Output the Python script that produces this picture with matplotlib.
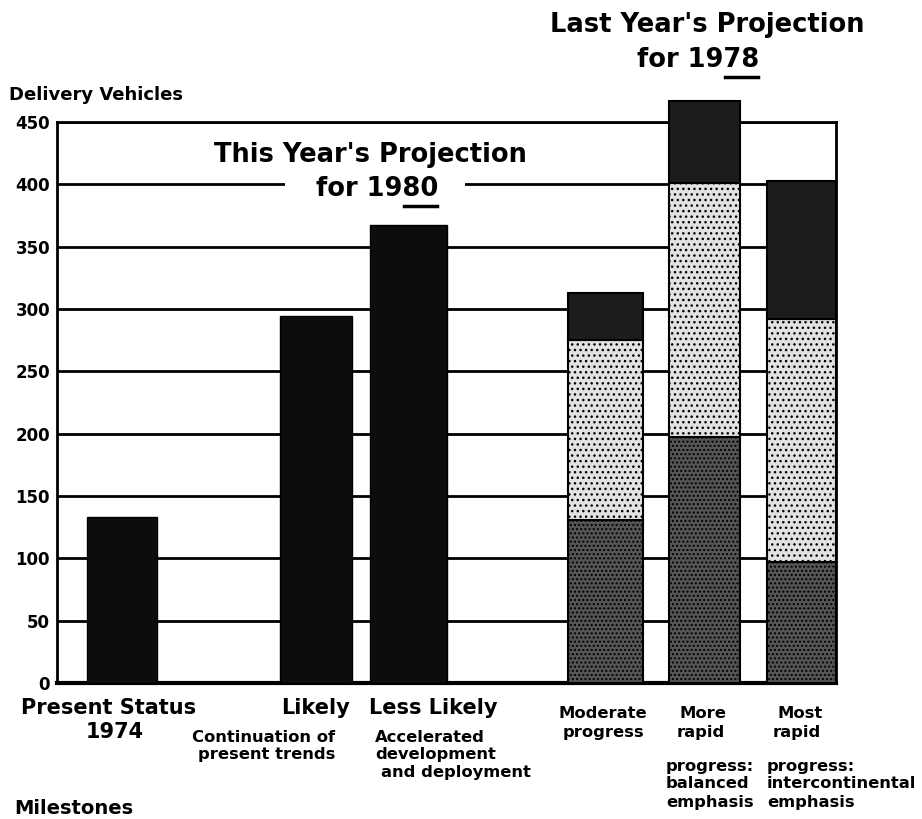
import matplotlib.pyplot as plt
import matplotlib.lines as mlines
import matplotlib.patches as mpatches

plt.rcParams['font.family'] = ['DejaVu Sans']
plt.rcParams['font.weight'] = 'bold'
plt.rcParams['hatch.linewidth'] = 1.0

W, H = 922, 819

# datos (vehiculos de lanzamiento)
single_labels = ["Present Status 1974", "Likely", "Less Likely"]
single_values = [133, 294, 367]

stack_labels = ["Moderate progress", "More rapid progress: balanced emphasis",
                "Most rapid progress: intercontinental emphasis"]
stack_bottom = [131, 197, 97]
stack_middle = [144, 204, 195]
stack_top = [38, 66, 111]

yticks = [0, 50, 100, 150, 200, 250, 300, 350, 400, 450]

# posiciones en pixeles de la figura original
single_x = [122, 316, 408]
single_w = [70, 72, 77]
stack_x = [605, 704, 801]
stack_w = [75, 71, 69]


def fx(x):
    return x / W


def fy(y):
    return 1 - y / H


def txt(x, y, s, size, ha='left', **kw):
    return fig.text(fx(x), fy(y), s, fontsize=size, fontweight='bold',
                    ha=ha, va='center', **kw)


def subrayar(t, prefijo, parte, dy):
    # subraya 'parte' dentro del texto t, que empieza con 'prefijo'
    r = fig.canvas.get_renderer()
    bb = t.get_window_extent(r)
    aux = fig.text(0, 0, prefijo, fontsize=t.get_fontsize(), fontweight='bold')
    w0 = aux.get_window_extent(r).width
    aux.set_text(prefijo + parte)
    w1 = aux.get_window_extent(r).width
    aux.remove()
    y = bb.y0 - dy
    fig.add_artist(mlines.Line2D([(bb.x0 + w0 + 2) / W, (bb.x0 + w1 - 1) / W],
                                 [y / H, y / H], color='black', lw=2.5))


fig = plt.figure(figsize=(W / 100, H / 100), dpi=100)
ax = fig.add_axes([fx(57), fy(683), fx(836) - fx(57), fy(122) - fy(683)])

ax.bar(single_x, single_values, width=single_w, color='#0d0d0d',
       edgecolor='black', zorder=3)

ax.bar(stack_x, stack_bottom, width=stack_w, color='#555555', hatch='....',
       edgecolor='black', linewidth=1.5, zorder=3, clip_on=False)
mid_base = [b for b in stack_bottom]
ax.bar(stack_x, stack_middle, bottom=mid_base, width=stack_w, color='#e2e2e2',
       hatch='...', edgecolor='black', linewidth=1.5, zorder=3, clip_on=False)
top_base = [b + m for b, m in zip(stack_bottom, stack_middle)]
ax.bar(stack_x, stack_top, bottom=top_base, width=stack_w, color='#1c1c1c',
       edgecolor='black', linewidth=1.5, zorder=3, clip_on=False)

ax.set_xlim(57, 836)
ax.set_ylim(0, 450)
ax.set_yticks(yticks)
ax.set_yticklabels([str(t) for t in yticks], fontsize=12, fontweight='bold')
ax.set_xticks([])
ax.tick_params(axis='y', length=0, pad=5)
ax.yaxis.grid(True, color='black', linewidth=2)
ax.set_axisbelow(True)
for s in ['left', 'top', 'right']:
    ax.spines[s].set_linewidth(2)
ax.spines['bottom'].set_linewidth(3)

# hueco blanco en la linea de 400 detras de "for 1980"
ax.add_patch(mpatches.Rectangle((285, 392), 180, 16, facecolor='white',
                                edgecolor='none', zorder=1))

txt(9, 95, "Delivery Vehicles", 13)

# titulos
txt(370, 155, "This Year's Projection", 18.5, ha='center')
t80 = txt(377, 189, "for 1980", 18.5, ha='center')
txt(707, 25, "Last Year's Projection", 18.5, ha='center')
t78 = txt(698, 60, "for 1978", 18.5, ha='center')

# etiquetas inferiores
txt(109, 708, "Present Status", 15, ha='center')
txt(115, 732, "1974", 15, ha='center')
txt(350, 708, "Likely", 15, ha='right')
txt(335, 738, "Continuation of", 11.8, ha='right')
txt(335, 755, "present trends", 11.8, ha='right')
txt(369, 708, "Less Likely", 15, ha='left')
txt(375, 738, "Accelerated", 11.8)
txt(375, 755, "development", 11.8)
txt(381, 772, "and deployment", 11.8)
txt(603, 713, "Moderate", 11.8, ha='center')
txt(603, 733, "progress", 11.8, ha='center')
txt(703, 713, "More", 11.8, ha='center')
txt(701, 733, "rapid", 11.8, ha='center')
txt(666, 766, "progress:", 11.8)
txt(666, 784, "balanced", 11.8)
txt(666, 802, "emphasis", 11.8)
txt(800, 713, "Most", 11.8, ha='center')
txt(797, 733, "rapid", 11.8, ha='center')
txt(767, 766, "progress:", 11.8)
txt(767, 784, "intercontinental", 11.8)
txt(767, 802, "emphasis", 11.8)

fig.text(fx(14), fy(818), "Milestones", fontsize=14, fontweight='bold',
         ha='left', va='bottom')

fig.canvas.draw()
subrayar(t80, "for 19", "80", 4)
subrayar(t78, "for 19", "78", 4)

fig.savefig("out.png", dpi=100)
